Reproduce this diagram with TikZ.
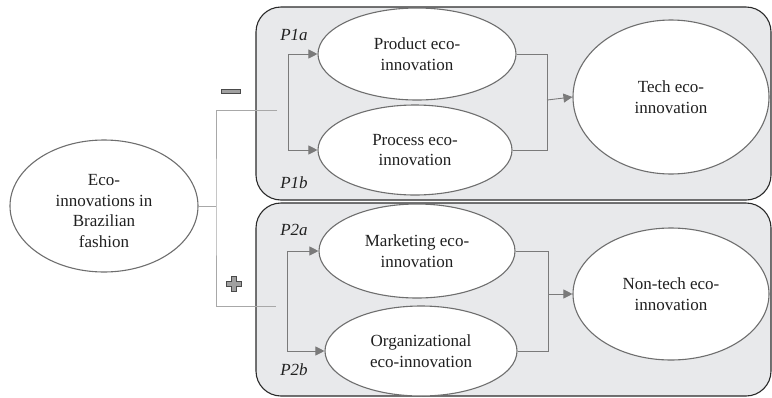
\documentclass[tikz,border=0pt]{standalone}
\usepackage{fontspec}
\setmainfont{Liberation Serif}
\usetikzlibrary{shapes.geometric,arrows.meta}
\definecolor{boxfill}{HTML}{E8E9EB}
\definecolor{boxline}{HTML}{2A2A2A}
\definecolor{ellline}{HTML}{6E6E6E}
\definecolor{arrline}{HTML}{7A7A7A}
\definecolor{lightline}{HTML}{A8A8A8}
\definecolor{txt}{HTML}{202020}
\definecolor{signfill}{HTML}{A0A0A0}
\definecolor{signline}{HTML}{4A4A4A}
\tikzset{
  groupbox/.style={draw=boxline, fill=boxfill, line width=1.1pt, rounded corners=25pt},
  ell/.style={ellipse, draw=ellline, fill=white, line width=1.1pt, inner sep=0pt, align=center,
    text=txt, font=\fontsize{17}{20.5}\selectfont},
  lbl/.style={text=txt, font=\fontsize{17}{20}\selectfont\itshape, inner sep=0pt},
  arr/.style={draw=arrline, line width=0.9pt, -{Triangle[length=9pt,width=9pt]}},
  conn/.style={draw=arrline, line width=0.9pt},
  lconn/.style={draw=lightline, line width=1pt},
  sign/.style={draw=signline, fill=signfill, line width=0.9pt},
}
\begin{document}
\begin{tikzpicture}[x=1pt,y=-1pt]
\useasboundingbox (0,0) rectangle (772,397);
% group boxes
\path[groupbox] (256,7) rectangle (771,200);
\path[groupbox] (256,203) rectangle (771,396);
% ellipses
\node[ell, minimum width=188pt, minimum height=132pt] (src) at (104,206) {\rule{0pt}{21pt}Eco-\\innovations in\\Brazilian\\fashion};
\node[ell, minimum width=198pt, minimum height=92pt] (prod) at (417,54) {Product eco-\\innovation};
\node[ell, minimum width=194pt, minimum height=90pt] (proc) at (415,150) {Process eco-\\innovation};
\node[ell, minimum width=196pt, minimum height=154pt] (tech) at (671,97) {Tech eco-\\innovation};
\node[ell, minimum width=196pt, minimum height=94pt] (mkt) at (417,251) {Marketing eco-\\innovation};
\node[ell, minimum width=192pt, minimum height=90pt] (org) at (421,351) {Organizational\\eco-innovation};
\node[ell, minimum width=196pt, minimum height=132pt] (nontech) at (671,294) {Non-tech eco-\\innovation};
% labels
\node[lbl] (p1a) at (294,35) {P1a};
\node[lbl] (p1b) at (294,183) {P1b};
\node[lbl] (p2a) at (294,230) {P2a};
\node[lbl] (p2b) at (294,370) {P2b};
% source connectors
\coordinate (sj) at (216,206);
\coordinate (ta) at (277,110);
\coordinate (tb) at (276,306);
\draw[lconn] (src.east) -- (sj);
\draw[lconn] (ta) -| (sj) |- (tb);
% top branch
\coordinate (b1) at (288,102);
\draw[arr] (b1) |- (prod.west);
\draw[arr] (b1) |- (proc.west);
% bottom branch
\coordinate (b2) at (287,300);
\draw[arr] (b2) |- (mkt.west);
\draw[arr] (b2) |- (org.west);
% merge to tech
\coordinate (m1) at (547,100);
\draw[conn] (prod.east) -| (m1);
\draw[conn] (proc.east) -| (m1);
\draw[arr] (m1) -- (tech.west);
% merge to non-tech
\coordinate (m2) at (548,294);
\draw[conn] (mkt.east) -| (m2);
\draw[conn] (org.east) -| (m2);
\draw[arr] (m2) -- (nontech.west);
% signs
\path[sign] (221,89) rectangle (240,93);
\path[sign] (231.5,276) -- (236.5,276) -- (236.5,281) -- (241.5,281) -- (241.5,286) -- (236.5,286) -- (236.5,291) -- (231.5,291) -- (231.5,286) -- (226.5,286) -- (226.5,281) -- (231.5,281) -- cycle;
\end{tikzpicture}
\end{document}
